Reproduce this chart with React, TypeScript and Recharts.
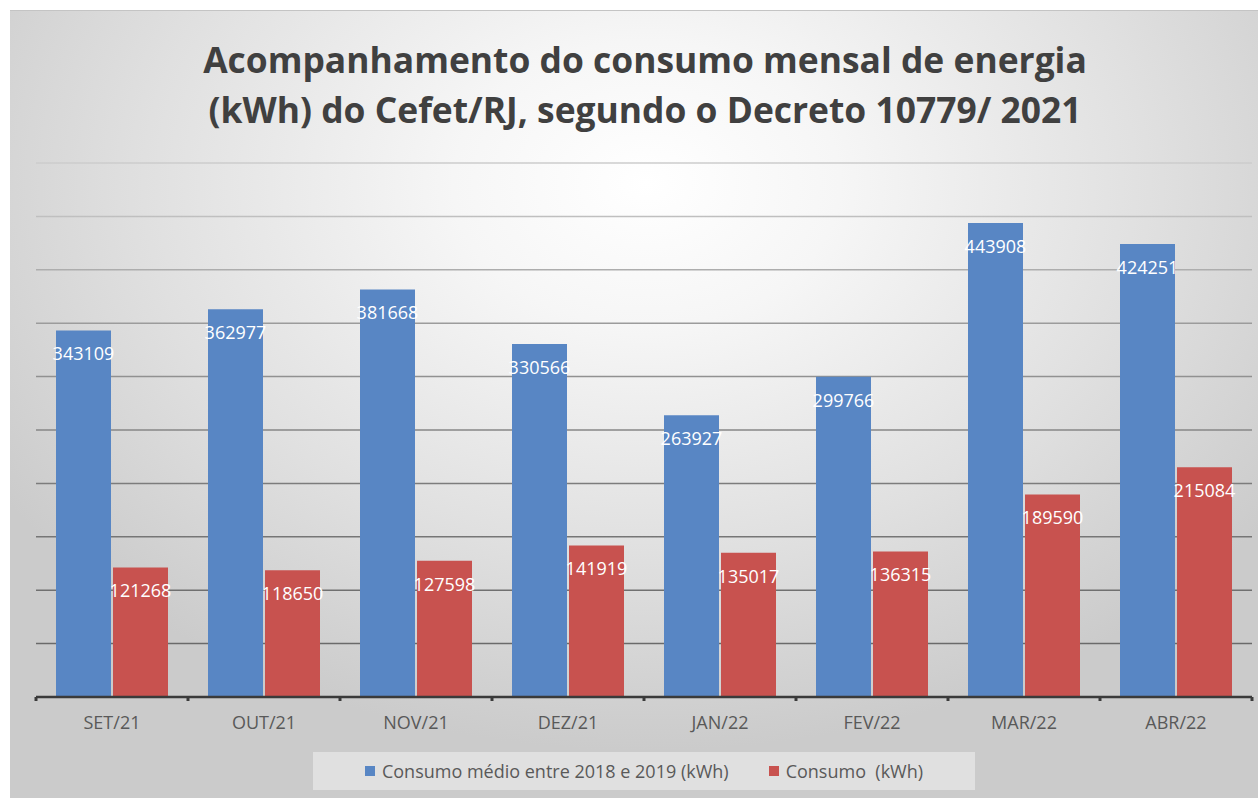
import React from 'react';
import { BarChart, Bar, XAxis, YAxis, CartesianGrid, Legend, LabelList } from 'recharts';

const months = ['SET/21', 'OUT/21', 'NOV/21', 'DEZ/21', 'JAN/22', 'FEV/22', 'MAR/22', 'ABR/22'];
const mediaValues = [343109, 362977, 381668, 330566, 263927, 299766, 443908, 424251];
const consumoValues = [121268, 118650, 127598, 141919, 135017, 136315, 189590, 215084];
const yTicks = [0, 50000, 100000, 150000, 200000, 250000, 300000, 350000, 400000, 450000, 500000];
const mediaName = 'Consumo médio entre 2018 e 2019 (kWh)';
const consumoName = 'Consumo  (kWh)';
const legendOrder = [mediaName, consumoName];
const titleLines = ['Acompanhamento do consumo mensal de energia', '(kWh) do Cefet/RJ, segundo o Decreto 10779/ 2021'];

const data = months.map((m, i) => ({ month: m, media: mediaValues[i], consumo: consumoValues[i] }));

const BLUE = '#5886C4';
const RED = '#C8524F';
const FONT = "'Open Sans', sans-serif";

const CategoryTick = (props: any) => {
  const { x, y, payload, index, width } = props;
  const half = (width || 1216) / (2 * months.length);
  return (
    <g>
      <line x1={x - half} x2={x - half} y1={y - 5} y2={y - 1} stroke="#3a3a3a" strokeWidth={3} />
      {index === months.length - 1 && (
        <line x1={x + half} x2={x + half} y1={y - 5} y2={y - 1} stroke="#3a3a3a" strokeWidth={3} />
      )}
      <text x={x} y={y + 27} textAnchor="middle" fill="#595959" fontSize={18} fontFamily={FONT}>
        {payload.value}
      </text>
    </g>
  );
};

const renderLegend = (props: any) => {
  const items = [...(props.payload || [])].sort(
    (a: any, b: any) => legendOrder.indexOf(a.value) - legendOrder.indexOf(b.value)
  );
  return (
    <div
      style={{
        width: '100%',
        height: '100%',
        background: 'rgba(255,255,255,0.4)',
        display: 'flex',
        alignItems: 'center',
        justifyContent: 'center',
        gap: 40,
        fontFamily: FONT,
        fontSize: 18,
        color: '#595959',
        boxSizing: 'border-box',
      }}
    >
      {items.map((entry: any) => (
        <div key={entry.value} style={{ display: 'flex', alignItems: 'center', whiteSpace: 'pre' }}>
          <span style={{ display: 'inline-block', width: 10, height: 10, background: entry.color, marginRight: 7 }} />
          <span>{entry.value}</span>
        </div>
      ))}
    </div>
  );
};

export default function App() {
  return (
    <div style={{ position: 'absolute', left: 0, top: 0, width: 1258, height: 798, background: '#ffffff', overflow: 'hidden' }}>
      <div
        style={{
          position: 'absolute',
          left: 10,
          top: 10,
          width: 1248,
          height: 788,
          background:
            'radial-gradient(ellipse 62% 72% at 51% 22%, #ffffff 0%, #f6f6f6 25%, #e0e0e0 65%, #cbcbcb 100%)',
          boxShadow: 'inset 0 1px 0 #c4c4c4',
        }}
      >
        <div
          style={{
            position: 'absolute',
            left: 35,
            top: 24,
            width: 1200,
            textAlign: 'center',
            fontFamily: FONT,
            fontWeight: 700,
            fontSize: 35.4,
            lineHeight: '50px',
            color: '#404040',
          }}
        >
          <div>{titleLines[0]}</div>
          <div>{titleLines[1]}</div>
        </div>
        <div style={{ position: 'absolute', left: 0, top: 0 }}>
          <BarChart
            width={1248}
            height={788}
            data={data}
            margin={{ top: 153, right: 6, left: 26, bottom: 13 }}
            barCategoryGap={20}
            barGap={2}
          >
            <defs>
              <linearGradient id="gridGrad" gradientUnits="userSpaceOnUse" x1={0} y1={150} x2={0} y2={687}>
                <stop offset="0%" stopColor="#cdcdcd" />
                <stop offset="10%" stopColor="#c0c0c0" />
                <stop offset="30%" stopColor="#9c9c9c" />
                <stop offset="60%" stopColor="#7c7c7c" />
                <stop offset="100%" stopColor="#646464" />
              </linearGradient>
            </defs>
            <CartesianGrid vertical={false} stroke="url(#gridGrad)" strokeWidth={1.5} />
            <YAxis hide domain={[0, 500000]} ticks={yTicks} width={0} />
            <XAxis
              dataKey="month"
              interval={0}
              height={50}
              tickSize={5}
              tickMargin={0}
              tickLine={false}
              axisLine={{ stroke: '#3a3a3a', strokeWidth: 2.5 }}
              tick={<CategoryTick />}
            />
            <Legend
              verticalAlign="bottom"
              content={renderLegend}
              wrapperStyle={{ left: 303, top: 742, width: 662, height: 38 }}
            />
            <Bar dataKey="media" name={mediaName} fill={BLUE} isAnimationActive={false}>
              <LabelList dataKey="media" position="insideTop" offset={17} fill="#ffffff" fontSize={18} fontFamily={FONT} />
            </Bar>
            <Bar dataKey="consumo" name={consumoName} fill={RED} isAnimationActive={false}>
              <LabelList dataKey="consumo" position="insideTop" offset={17} fill="#ffffff" fontSize={18} fontFamily={FONT} />
            </Bar>
          </BarChart>
        </div>
      </div>
    </div>
  );
}
